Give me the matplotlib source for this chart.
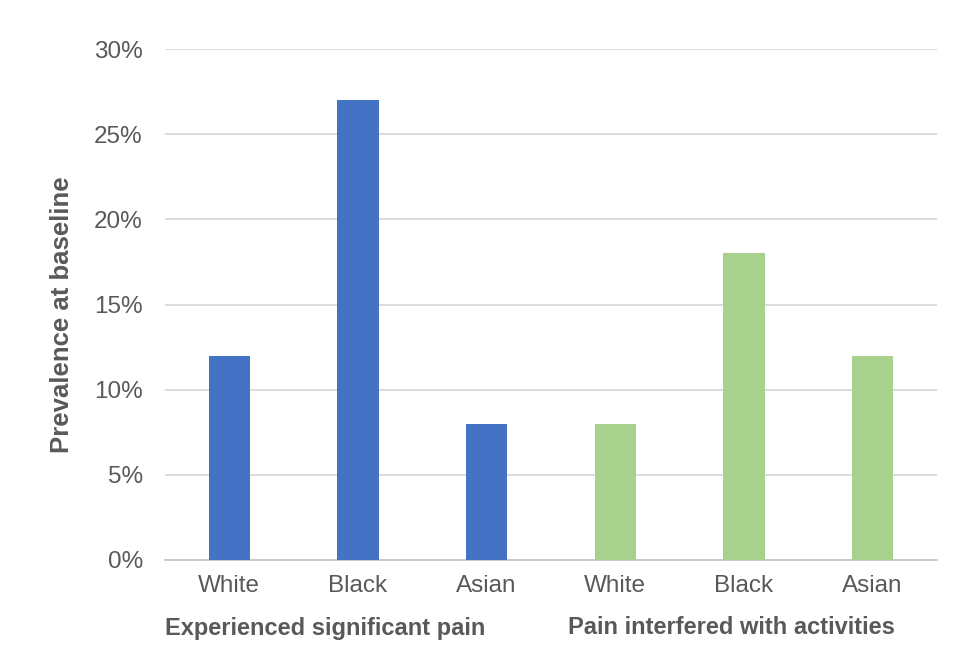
import matplotlib
matplotlib.use("Agg")
import matplotlib.pyplot as plt
from matplotlib.ticker import FuncFormatter

categories = ["White", "Black", "Asian", "White", "Black", "Asian"]
groups = ["Experienced significant pain", "Pain interfered with activities"]
sig_pain = [12, 27, 8]
interfered = [8, 18, 12]
yticks = [0, 5, 10, 15, 20, 25, 30]

plt.rcParams['font.family'] = ['Liberation Sans', 'DejaVu Sans']

fig = plt.figure(figsize=(9.76, 6.68), dpi=100)
ax = fig.add_axes([165/976, 108/668, 772/976, 511/668])

x1 = list(range(len(sig_pain)))
x2 = [len(sig_pain) + i for i in range(len(interfered))]
ax.bar(x1, sig_pain, width=0.32, color="#4472C4", zorder=3)
ax.bar(x2, interfered, width=0.32, color="#A9D18E", zorder=3)

ax.set_xlim(-0.5, 5.5)
ax.set_ylim(0, 30)
ax.set_yticks(yticks)
ax.yaxis.set_major_formatter(FuncFormatter(lambda v, p: f"{int(v)}%"))
ax.set_xticks(x1 + x2)
ax.set_xticklabels(categories)
ax.grid(axis='y', color="#d9d9d9", linewidth=1.3, zorder=0)
for s in ["top", "right", "left"]:
    ax.spines[s].set_visible(False)
ax.spines["bottom"].set_color("#c8c8c8")
ax.spines["bottom"].set_linewidth(1.3)
ax.tick_params(axis='both', length=0, labelsize=17.5, colors="#595959")
ax.tick_params(axis='x', pad=11)
ax.tick_params(axis='y', pad=16)

fig.text(62/976, 1 - 315/668, "Prevalence at baseline", fontsize=18.5,
         fontweight='bold', color="#595959", rotation=90,
         ha='center', va='center')

fig.text(165/976, 1 - 628/668, groups[0], fontsize=17, fontweight='bold',
         color="#595959", ha='left', va='center')
fig.text(568/976, 1 - 628/668, groups[1], fontsize=17, fontweight='bold',
         color="#595959", ha='left', va='center')

fig.savefig("out.png", dpi=100)
